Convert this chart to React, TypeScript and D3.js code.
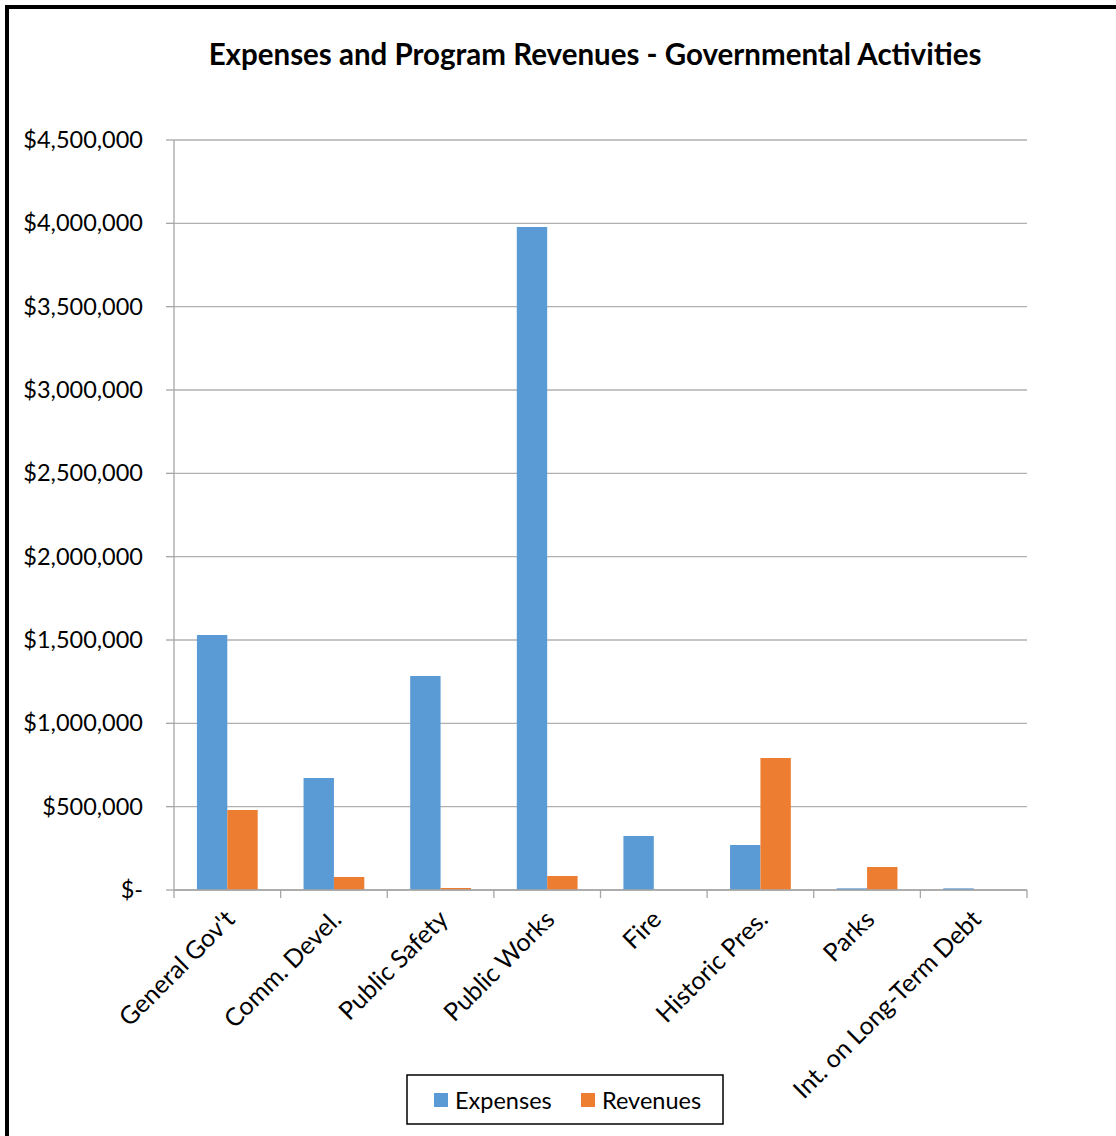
import React from "react";
import * as d3 from "d3";

const categories = ["General Gov't", "Comm. Devel.", "Public Safety", "Public Works", "Fire", "Historic Pres.", "Parks", "Int. on Long-Term Debt"];
const expenses = [1530000, 672000, 1284000, 3978000, 324000, 270000, 10000, 10000];
const revenues = [480000, 78000, 12000, 84000, 0, 792000, 138000, 0];
const yTicks = [0, 500000, 1000000, 1500000, 2000000, 2500000, 3000000, 3500000, 4000000, 4500000];
const seriesNames = ["Expenses", "Revenues"];
const colors = ["#5b9bd5", "#ed7d31"];

const W = 1116, H = 1136;
const left = 174, right = 1027, top = 140, bottom = 890;
const FONT = "Lato, 'Open Sans', sans-serif";

function fmt(v: number) {
  if (v === 0) return "$-";
  return "$" + d3.format(",")(v);
}

export default function App() {
  const x = d3.scaleBand<string>().domain(categories).range([left, right]).paddingInner(0.43).paddingOuter(0.215);
  const step = x.step();
  const x1 = d3.scaleBand<string>().domain(seriesNames).range([0, x.bandwidth()]);
  const y = d3.scaleLinear().domain([0, 4500000]).range([bottom, top]);
  const series = [expenses, revenues];

  return (
    <svg width={W} height={H} style={{ position: "absolute", left: 0, top: 0, display: "block" }}>
      <rect x={0} y={0} width={W} height={H} fill="#fff" />
      <path d={`M7,${H} V7 H${W}`} fill="none" stroke="#000" strokeWidth={4} />
      <text x={595} y={65} textAnchor="middle" fontFamily={FONT} fontWeight="bold" fontSize={29.5} fill="#000">
        Expenses and Program Revenues - Governmental Activities
      </text>
      {yTicks.map((t) => (
        <g key={t}>
          <line x1={left} x2={right} y1={y(t)} y2={y(t)} stroke="#b0b0b0" strokeWidth={1.3} />
          <line x1={left - 8} x2={left} y1={y(t)} y2={y(t)} stroke="#a6a6a6" strokeWidth={1.3} />
          <text x={143} y={y(t) + 8} textAnchor="end" fontFamily={FONT} fontSize={23.5} fill="#000">
            {fmt(t)}
          </text>
        </g>
      ))}
      <line x1={left} x2={left} y1={top} y2={bottom} stroke="#a6a6a6" strokeWidth={1.3} />
      {series.map((vals, si) =>
        categories.map((c, i) => {
          const v = vals[i];
          if (v <= 0) return null;
          const bx = (x(c) as number) + (x1(seriesNames[si]) as number);
          return <rect key={si + "-" + i} x={bx} y={y(v)} width={x1.bandwidth()} height={bottom - y(v)} fill={colors[si]} />;
        })
      )}
      <line x1={left} x2={right} y1={bottom} y2={bottom} stroke="#a6a6a6" strokeWidth={1.5} />
      {d3.range(categories.length + 1).map((i) => (
        <line key={i} x1={left + i * step} x2={left + i * step} y1={bottom} y2={bottom + 8} stroke="#a6a6a6" strokeWidth={1.3} />
      ))}
      {categories.map((c) => {
        const cx = (x(c) as number) + x.bandwidth() / 2 + 9;
        return (
          <text key={c} transform={`translate(${cx},${bottom + 31}) rotate(-45)`} textAnchor="end" fontFamily={FONT} fontSize={25} fill="#000">
            {c}
          </text>
        );
      })}
      <rect x={407} y={1075} width={316} height={49} fill="#fff" stroke="#000" strokeWidth={1.5} />
      {seriesNames.map((s, i) => (
        <g key={s}>
          <rect x={434 + i * 147} y={1093} width={14} height={14} fill={colors[i]} />
          <text x={455 + i * 147} y={1109} fontFamily={FONT} fontSize={23.5} fill="#000">
            {s}
          </text>
        </g>
      ))}
    </svg>
  );
}
